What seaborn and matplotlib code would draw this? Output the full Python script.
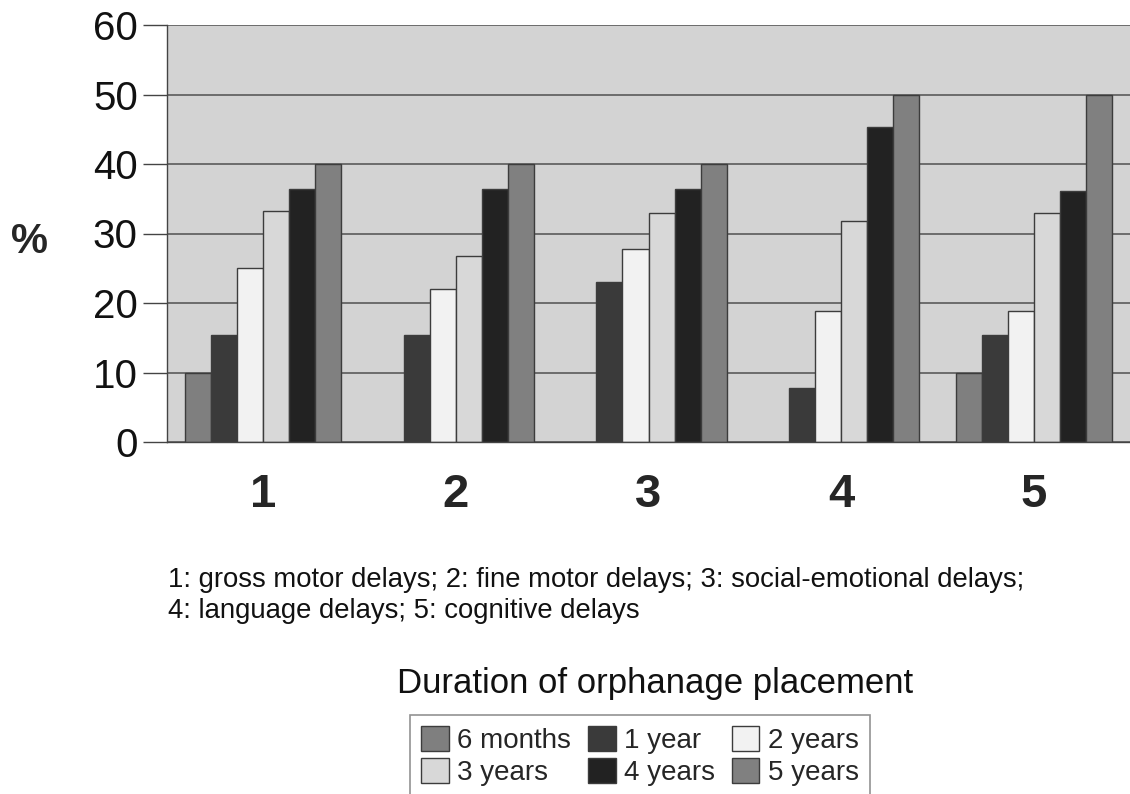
import matplotlib
matplotlib.use("Agg")
import matplotlib.pyplot as plt
import seaborn as sns
import pandas as pd
import numpy as np

categories = ["1", "2", "3", "4", "5"]
durations = ["6 months", "1 year", "2 years", "3 years", "4 years", "5 years"]
vals_6m = [10, 0, 0, 0, 10]
vals_1y = [15.4, 15.4, 23.0, 7.7, 15.4]
vals_2y = [25.0, 22.0, 27.8, 18.8, 18.8]
vals_3y = [33.3, 26.7, 33.0, 31.8, 33.0]
vals_4y = [36.4, 36.4, 36.4, 45.3, 36.1]
vals_5y = [40, 40, 40, 50, 50]
colors = ["#7f7f7f", "#3a3a3a", "#f2f2f2", "#d8d8d8", "#222222", "#808080"]

series = [vals_6m, vals_1y, vals_2y, vals_3y, vals_4y, vals_5y]
rows = []
for d, vals in zip(durations, series):
    for c, v in zip(categories, vals):
        rows.append({"cat": c, "dur": d, "val": v})
df = pd.DataFrame(rows)

sns.set_style("white")
plt.rcParams["font.family"] = ["Liberation Sans", "DejaVu Sans"]

fig = plt.figure(figsize=(11.3, 7.94), dpi=100)
ax = fig.add_axes([167/1130, 352/794, 1 - 167/1130, (442-25)/794])
ax.set_facecolor("#d3d3d3")
ax.set_axisbelow(True)
ax.yaxis.grid(True, color="#5a5a5a", linewidth=1.2)

sns.barplot(data=df, x="cat", y="val", hue="dur", order=categories,
            hue_order=durations, palette=colors, width=0.81,
            edgecolor="#3c3c3c", linewidth=1.0, ax=ax, legend=True, saturation=1)

for cont in ax.containers:
    for p in cont:
        if p.get_height() == 0:
            p.set_visible(False)

ax.set_ylim(0, 60)
ax.set_xlim(-0.5, 4.5)
ax.set_yticks(range(0, 61, 10))
ax.tick_params(axis="y", labelsize=29, length=17, width=1, color="#444444",
               direction="out", pad=4, left=True, labelcolor="#111111")
ax.set_xticks(range(5))
ax.set_xticklabels(categories, fontsize=34, fontweight="bold")
ax.tick_params(axis="x", which="major", length=0, pad=22)
ax.set_xticks(np.arange(-0.5, 5.0, 1.0), minor=True)
ax.tick_params(axis="x", which="minor", length=13, width=1, color="#444444", direction="out")
ax.set_xlabel("")
ax.set_ylabel("")
for s in ["top", "right"]:
    ax.spines[s].set_visible(False)
for s in ["left", "bottom"]:
    ax.spines[s].set_color("#444444")
    ax.spines[s].set_linewidth(1)

handles, labels = ax.get_legend_handles_labels()
ax.get_legend().remove()
order = [0, 3, 1, 4, 2, 5]
leg = fig.legend([handles[i] for i in order], [labels[i] for i in order],
                 ncol=3, loc="upper center", bbox_to_anchor=(640/1130, 1 - 715/794),
                 fontsize=20, frameon=True, fancybox=False, edgecolor="#777777",
                 handlelength=1.0, handleheight=1.0, handletextpad=0.3,
                 columnspacing=0.6, labelspacing=0.15, borderpad=0.4, borderaxespad=0)
leg.get_frame().set_linewidth(1.2)

fig.text(30/1130, 1 - 242/794, "%", fontsize=30, fontweight="bold", ha="center", va="center")
fig.text(168/1130, 1 - 580/794,
         "1: gross motor delays; 2: fine motor delays; 3: social-emotional delays;",
         fontsize=19.8, ha="left", va="center", color="#111111")
fig.text(168/1130, 1 - 611/794, "4: language delays; 5: cognitive delays",
         fontsize=19.8, ha="left", va="center", color="#111111")
fig.text(655/1130, 1 - 683/794, "Duration of orphanage placement",
         fontsize=25, ha="center", va="center", color="#111111")

fig.savefig("out.png", dpi=100)
